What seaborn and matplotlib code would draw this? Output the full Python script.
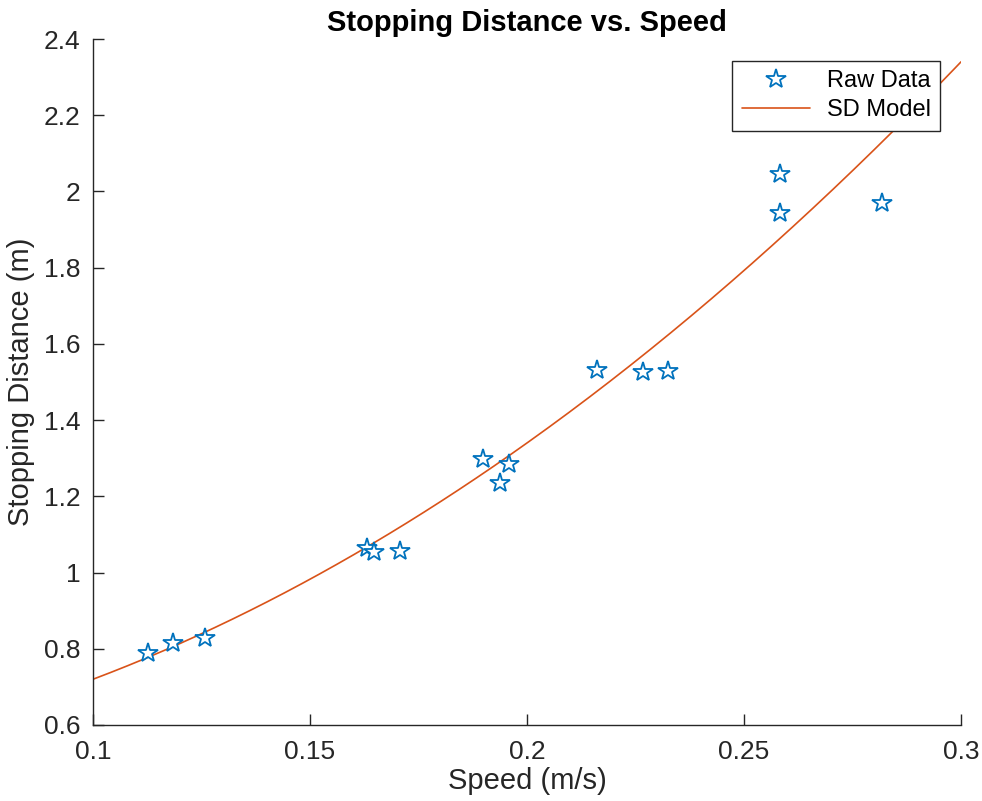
import seaborn as sns
import matplotlib.pyplot as plt
import matplotlib.ticker as mticker
import numpy as np
import pandas as pd

speed = [0.1126, 0.1184, 0.1257, 0.1631, 0.1648, 0.1707, 0.1898, 0.1938, 0.1959,
         0.2162, 0.2267, 0.2325, 0.2584, 0.2584, 0.2819]
distance = [0.788, 0.816, 0.827, 1.064, 1.055, 1.057, 1.297, 1.234, 1.285,
            1.531, 1.527, 1.530, 2.046, 1.944, 1.970]

# quadratic SD model (a*v^2 + b*v + c), coefficients
model_coeffs = [19.0, 0.5, 0.48]
model_range = [0.1, 0.3]

x_ticks = [0.1, 0.15, 0.2, 0.25, 0.3]
y_ticks = [0.6, 0.8, 1.0, 1.2, 1.4, 1.6, 1.8, 2.0, 2.2, 2.4]

blue = "#0072BD"
orange = "#D95319"
axis_col = "#262626"


def plot_stopping_distance():
    raw = pd.DataFrame({"Speed": speed, "Distance": distance})
    v = np.linspace(model_range[0], model_range[1], 300)
    model = pd.DataFrame({"Speed": v, "Distance": np.polyval(model_coeffs, v)})

    fig = plt.figure(figsize=(9.82, 8.01), dpi=100)
    ax = fig.add_axes([0.0947, 0.0949, 0.8839, 0.8564])

    ax.plot(raw["Speed"], raw["Distance"], linestyle="none", marker="*", markersize=15,
            markerfacecolor="white", markeredgecolor=blue, markeredgewidth=1.3,
            label="Raw Data", zorder=3)
    sns.lineplot(data=model, x="Speed", y="Distance", color=orange, linewidth=1.2,
                 label="SD Model", ax=ax, zorder=2)

    ax.set_xlim(model_range)
    ax.set_ylim(0.6, 2.4)
    ax.set_xticks(x_ticks)
    ax.set_yticks(y_ticks)
    fmt = mticker.FuncFormatter(lambda val, pos: f"{val:g}")
    ax.xaxis.set_major_formatter(fmt)
    ax.yaxis.set_major_formatter(fmt)

    ax.set_xlabel("Speed (m/s)", fontsize=21, color=axis_col, labelpad=2.5)
    ax.set_ylabel("Stopping Distance (m)", fontsize=21, color=axis_col, labelpad=6)
    ax.set_title("Stopping Distance vs. Speed", fontsize=21, fontweight="bold",
                 color="black", pad=6)

    ax.tick_params(direction="in", length=8, width=1, labelsize=19, colors=axis_col,
                   bottom=True, left=True, top=False, right=False)
    ax.tick_params(axis="x", pad=10.5)
    ax.tick_params(axis="y", pad=9)
    for side in ["left", "bottom"]:
        ax.spines[side].set_color(axis_col)
        ax.spines[side].set_linewidth(1)
    sns.despine(ax=ax)

    leg = ax.legend(loc="upper right", bbox_to_anchor=(0.976, 0.968), fontsize=17,
                    fancybox=False, framealpha=1, edgecolor=axis_col,
                    borderpad=0.4, handlelength=2.9, handletextpad=0.7,
                    labelspacing=0.3, borderaxespad=0)
    leg.get_frame().set_linewidth(1)
    leg._legend_box.align = "right"
    for t in leg.get_texts():
        t.set_color("black")

    fig.savefig("out.png", dpi=100)


if __name__ == '__main__':
    sns.set_style("white")
    plt.rcParams["font.family"] = ["Liberation Sans", "DejaVu Sans"]
    plot_stopping_distance()
